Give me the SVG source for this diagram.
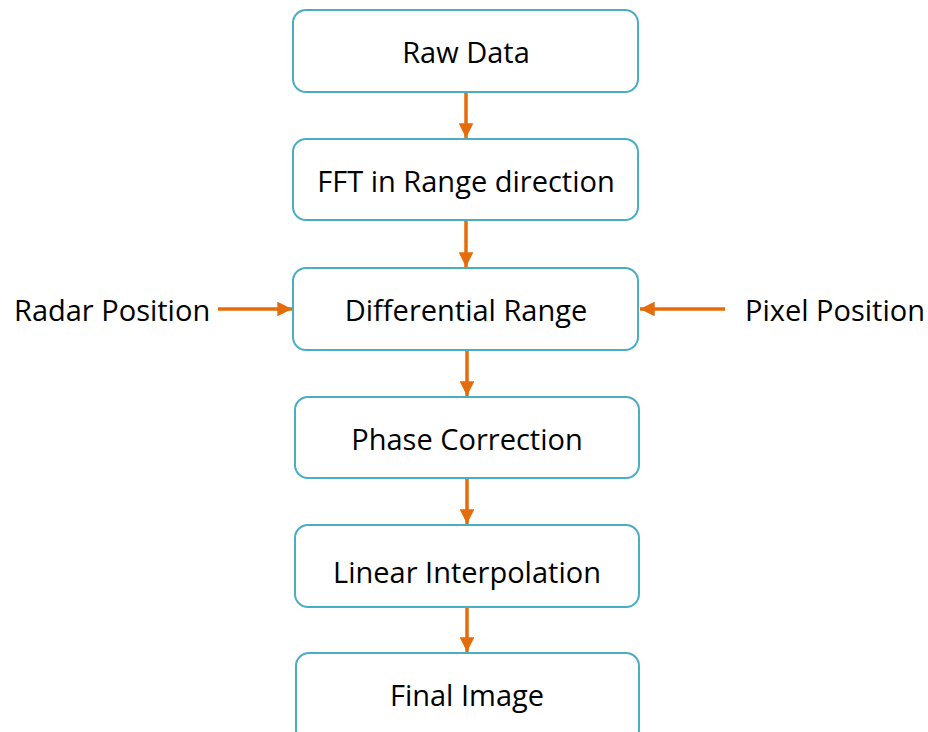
<svg xmlns="http://www.w3.org/2000/svg" width="928" height="732" viewBox="0 0 928 732">
  <style>
    .box { fill: #ffffff; stroke: #4bacc6; stroke-width: 2; }
    .lbl { font-family: "Open Sans", "Liberation Sans", sans-serif; font-size: 29px; fill: #000000; text-anchor: middle; dominant-baseline: central; }
    .side { text-anchor: start; }
    .conn { stroke: #e46c0a; stroke-width: 3.5; fill: none; marker-end: url(#arrow); }
  </style>
  <defs>
    <marker id="arrow" viewBox="0 0 10 10" refX="10" refY="5" markerWidth="4.2" markerHeight="4.2" markerUnits="strokeWidth" orient="auto">
      <path d="M0,0 L10,5 L0,10 Z" fill="#e46c0a"/>
    </marker>
  </defs>
  <rect width="928" height="732" fill="#ffffff"/>

  <g id="connectors">
    <line class="conn" x1="466" y1="92" x2="466" y2="138"/>
    <line class="conn" x1="466" y1="221" x2="466" y2="267"/>
    <line class="conn" x1="467" y1="350" x2="467" y2="396"/>
    <line class="conn" x1="467" y1="479" x2="467" y2="524"/>
    <line class="conn" x1="467" y1="607" x2="467" y2="652"/>
    <line class="conn" x1="218" y1="309" x2="292" y2="309"/>
    <line class="conn" x1="725" y1="309" x2="640" y2="309"/>
  </g>

  <g id="raw-data">
    <rect class="box" x="293" y="10" width="345" height="82" rx="13"/>
    <text class="lbl" x="466" y="51">Raw Data</text>
  </g>
  <g id="fft-range">
    <rect class="box" x="293" y="139" width="345" height="81" rx="13"/>
    <text class="lbl" x="466" y="180">FFT in Range direction</text>
  </g>
  <g id="differential-range">
    <rect class="box" x="293" y="268" width="345" height="82" rx="13"/>
    <text class="lbl" x="466" y="309">Differential Range</text>
  </g>
  <g id="phase-correction">
    <rect class="box" x="295" y="397" width="344" height="81" rx="13"/>
    <text class="lbl" x="467" y="438">Phase Correction</text>
  </g>
  <g id="linear-interpolation">
    <rect class="box" x="295" y="525" width="344" height="82" rx="13"/>
    <text class="lbl" x="467" y="571">Linear Interpolation</text>
  </g>
  <g id="final-image">
    <rect class="box" x="296" y="653" width="343" height="90" rx="13"/>
    <text class="lbl" x="467" y="694">Final Image</text>
  </g>
  <g id="radar-position">
    <text class="lbl side" x="14" y="309">Radar Position</text>
  </g>
  <g id="pixel-position">
    <text class="lbl side" x="745" y="309">Pixel Position</text>
  </g>
</svg>
